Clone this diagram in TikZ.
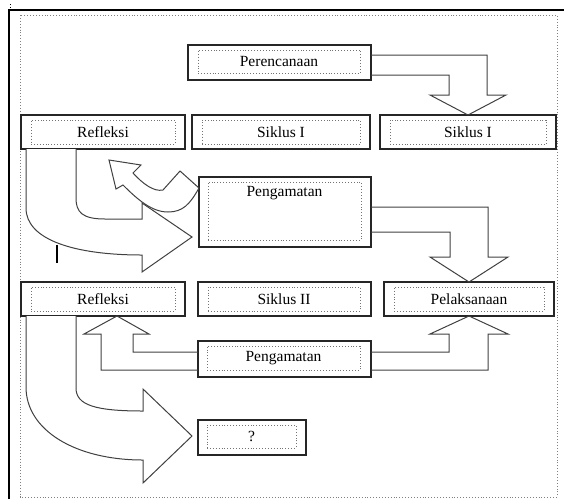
\documentclass[tikz,border=0pt]{standalone}
\usepackage{fontspec}
\setmainfont{Liberation Serif}
\usetikzlibrary{calc}

\tikzset{
  luar/.style={draw=black!85, line width=1.1pt, inner sep=0pt, outer sep=0pt},
  dalam/.style={draw=black!55, dotted, line width=0.9pt, inner sep=0pt, outer sep=0pt,
    font=\fontsize{15.5}{18}\selectfont},
  teks/.style={inner sep=0pt, font=\fontsize{15.5}{18}\selectfont},
  panah/.style={draw=black!75, line width=1pt, fill=white, line join=miter},
}

\begin{document}
\begin{tikzpicture}[x=1pt,y=-1pt]
\useasboundingbox (0,0) rectangle (564,499);
% halaman
\draw[line width=1.3pt] (9,499) -- (9,10) -- (564,10);
\draw[dotted, line width=0.9pt] (10,4) -- (10,9);
\draw[black!50, dotted, line width=0.9pt] (20,15) rectangle (557,497);

% kotak-kotak
\node[luar, minimum width=183pt, minimum height=35pt] (ren) at (279.5,62.5) {};
\node[dalam, minimum width=162pt, minimum height=23pt] (renT) at (279,61.5) {Perencanaan};

\node[luar, minimum width=164pt, minimum height=34pt] (ref1) at (103,132) {};
\node[dalam, minimum width=144pt, minimum height=24pt] (ref1T) at (103,132) {Refleksi};
\node[luar, minimum width=178pt, minimum height=34pt] (sik1) at (281,132) {};
\node[dalam, minimum width=158pt, minimum height=24pt] (sik1T) at (281,132) {Siklus I};
\node[luar, minimum width=176pt, minimum height=34pt] (sik1b) at (468,132) {};
\node[dalam, minimum width=156pt, minimum height=24pt] (sik1bT) at (468,132) {Siklus I};

\node[luar, minimum width=172pt, minimum height=70pt] (amat1) at (285,212) {};
\node[dalam, minimum width=153pt, minimum height=58pt] (amat1T) at (284.5,211) {};
\node[teks] (amat1L) at (284.5,193) {Pengamatan};

\node[luar, minimum width=164pt, minimum height=34pt] (ref2) at (103,299) {};
\node[dalam, minimum width=144pt, minimum height=24pt] (ref2T) at (103,299) {Refleksi};
\node[luar, minimum width=173pt, minimum height=34pt] (sik2) at (284.5,299) {};
\node[dalam, minimum width=152pt, minimum height=24pt] (sik2T) at (284,299) {Siklus II};
\node[luar, minimum width=170pt, minimum height=34pt] (pel) at (469,299) {};
\node[dalam, minimum width=150pt, minimum height=24pt] (pelT) at (469,299) {Pelaksanaan};

\node[luar, minimum width=173pt, minimum height=36pt] (amat2) at (284.5,359) {};
\node[dalam, minimum width=153pt, minimum height=24pt] (amat2T) at (283.5,358) {Pengamatan};

\node[luar, minimum width=108pt, minimum height=35pt] (tanya) at (252,437.5) {};
\node[dalam, minimum width=89pt, minimum height=23pt] (tanyaT) at (251.5,436.5) {?};

% panah siku
\draw[panah, fill=none] (ren.east |- 0,55) -- (487,55) -- (487,95) -- (506,95) -- (sik1b.north)
  -- (430,95) -- (449,95) -- (449,75) -- (ren.east |- 0,75);
\draw[panah, fill=none] (amat1.east |- 0,207) -- (488,207) -- (488,257) -- (508,257) -- (pel.north)
  -- (430,257) -- (450,257) -- (450,232) -- (amat1.east |- 0,232);
\draw[panah, fill=none] (amat2.west |- 0,352) -- (133,352) -- (133,334) -- (149,334) -- (117,316)
  -- (84,334) -- (101,334) -- (101,370) -- (amat2.west |- 0,370);
\draw[panah, fill=none] (amat2.east |- 0,352) -- (449,352) -- (449,334) -- (430,334) -- (pel.south)
  -- (508,334) -- (488,334) -- (488,370) -- (amat2.east |- 0,370);

% panah lengkung
\draw[panah] (26,149) -- (26,208) .. controls (26,240) and (75,255) .. (142,255)
  -- (142,272) -- (192,237) -- (142,203) -- (142,219) -- (105,219)
  .. controls (82,219) and (76,212) .. (76,198) -- (76,149);
\draw[panah] (109,160) -- (141,165) -- (133,173) .. controls (143,184) and (154,192) .. (163,190)
  -- (180,171) -- (amat1.west |- 0,188) .. controls (190,204) and (183,212) .. (168,212)
  .. controls (152,212) and (138,200) .. (123,185) -- (116,189) -- cycle;
\draw[panah] (26,316) -- (26,387) .. controls (26,430) and (75,460) .. (143,460)
  -- (143,483) -- (192,436) -- (143,389) -- (143,411)
  .. controls (95,411) and (76,405) .. (76,388) -- (76,316);

\draw[line width=1.5pt] (57,245) -- (57,263);
\end{tikzpicture}
\end{document}
